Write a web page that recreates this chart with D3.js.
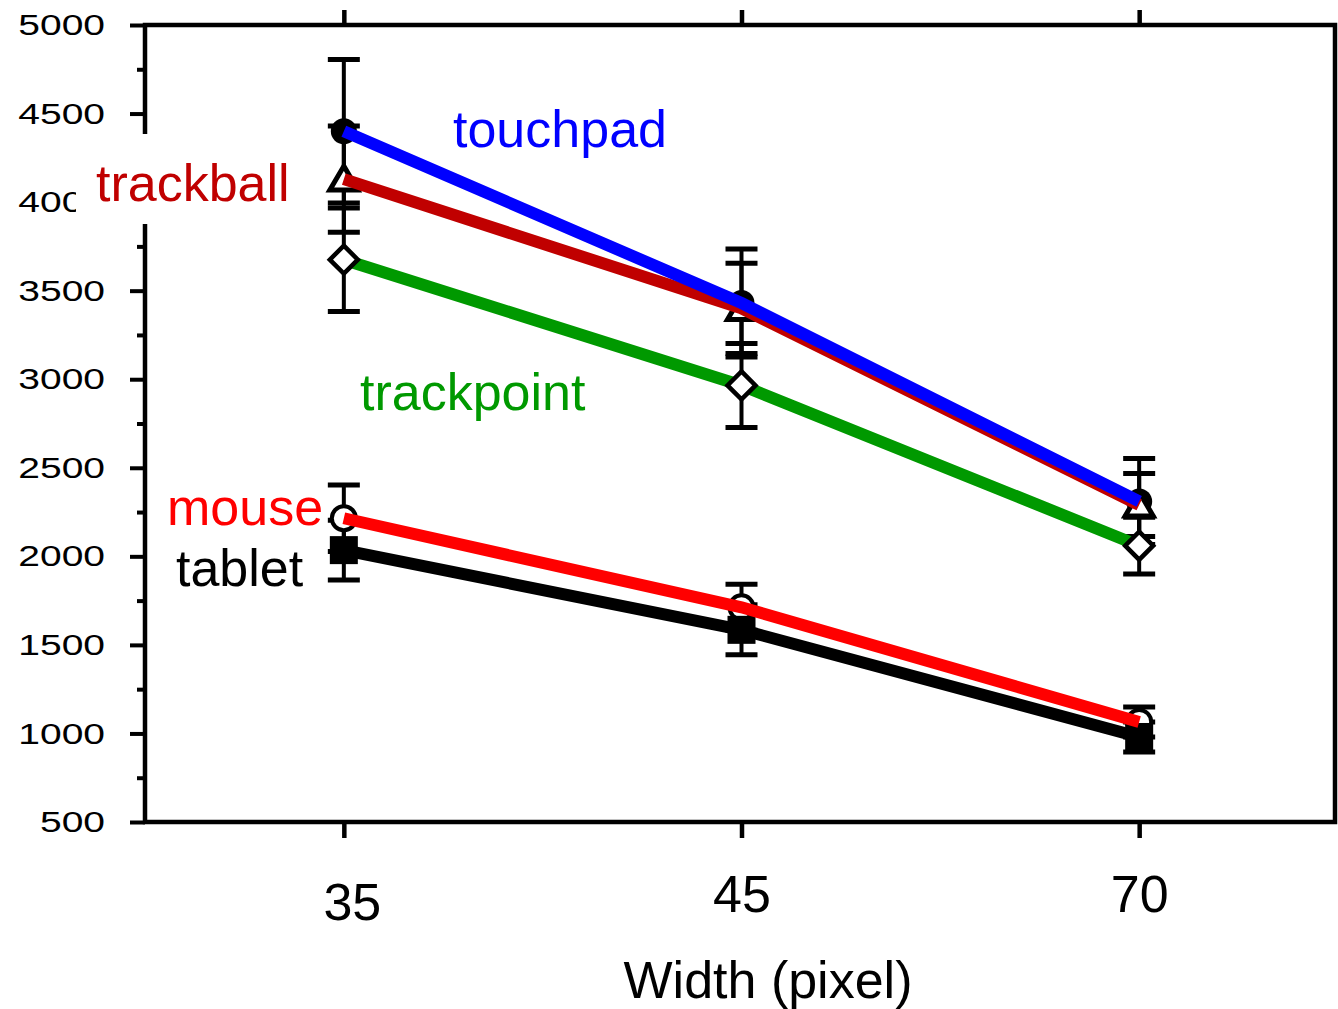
<!DOCTYPE html>
<html>
<head>
<meta charset="utf-8">
<script src="https://d3js.org/d3.v7.min.js"></script>
<style>
  body { margin: 0; background: white; }
  svg { display: block; font-family: "Liberation Sans", Arial, Helvetica, sans-serif; }
</style>
</head>
<body>
<div id="chart"></div>
<script>
// widths on the x axis
const widths = ["35", "45", "70"];
const seriesNames = ["touchpad", "trackball", "trackpoint", "mouse", "tablet"];

// mean times per width
const touchpad   = [4400, 3430, 2310];
const trackball  = [4130, 3400, 2290];
const trackpoint = [3675, 2965, 2060];
const mouse      = [2215, 1712, 1065];
const tablet     = [2035, 1585, 980];

// error bar half-heights
const touchpadErr   = [405, 305, 243];
const trackballErr  = [300, 255, 178];
const trackpointErr = [292, 237, 160];
const mouseErr      = [188, 130, 85];
const tabletErr     = [169, 141, 85];

const yTicks = [500, 1000, 1500, 2000, 2500, 3000, 3500, 4000, 4500, 5000];
const yMinorTicks = [750, 1250, 1750, 2250, 2750, 3250, 3750, 4250, 4750];

const W = 1338, H = 1009;
const plotLeft = 145, plotRight = 1335, plotTop = 25, plotBottom = 822;

const colors = {
    touchpad: "#0000ff",
    trackball: "#c00000",
    trackpoint: "#009900",
    mouse: "#ff0000",
    tablet: "#000000"
};
const markers = {
    touchpad: "circleFilled",
    trackball: "triangle",
    trackpoint: "diamond",
    mouse: "circleOpen",
    tablet: "square"
};
const labelPos = {
    touchpad: [453, 147],
    trackball: [96, 201],
    trackpoint: [360, 410],
    mouse: [167, 525],
    tablet: [176, 586]
};

const means = { touchpad, trackball, trackpoint, mouse, tablet };
const errs = { touchpad: touchpadErr, trackball: trackballErr, trackpoint: trackpointErr, mouse: mouseErr, tablet: tabletErr };

const svg = d3.select('#chart')
    .append('svg')
    .attr('width', W)
    .attr('height', H);

const x = d3.scalePoint()
    .domain(widths)
    .range([plotLeft, 1338])
    .padding(0.5);

const y = d3.scaleLinear()
    .domain([500, 5000])
    .range([plotBottom, plotTop]);

// frame
svg.append('rect')
    .attr('x', plotLeft).attr('y', plotTop)
    .attr('width', plotRight - plotLeft).attr('height', plotBottom - plotTop)
    .attr('fill', 'none')
    .attr('stroke', 'black')
    .attr('stroke-width', 4.5);

// y axis, major + minor ticks
const yAxis = svg.append('g')
    .attr('transform', `translate(${plotLeft},0)`)
    .call(d3.axisLeft(y).tickValues(yTicks).tickSize(15).tickPadding(25).tickFormat(d3.format('d')));
yAxis.select('.domain').remove();
yAxis.selectAll('line').attr('stroke-width', 4);
yAxis.selectAll('text')
    .attr('font-size', 30)
    .attr('font-family', '"Liberation Sans", Arial, sans-serif')
    .attr('fill', 'black')
    .attr('x', null)
    .attr('transform', 'translate(-40,0) scale(1.3,1)');

const yMinor = svg.append('g')
    .attr('transform', `translate(${plotLeft},0)`)
    .call(d3.axisLeft(y).tickValues(yMinorTicks).tickSize(8).tickFormat(''));
yMinor.select('.domain').remove();
yMinor.selectAll('line').attr('stroke-width', 4);

// top ticks
const xTop = svg.append('g')
    .attr('transform', `translate(0,${plotTop})`)
    .call(d3.axisTop(x).tickSize(15).tickFormat(''));
xTop.select('.domain').remove();
xTop.selectAll('line').attr('stroke-width', 4.5);

// bottom axis
const xAxis = svg.append('g')
    .attr('transform', `translate(0,${plotBottom})`)
    .call(d3.axisBottom(x).tickSize(16).tickPadding(20));
xAxis.select('.domain').remove();
xAxis.selectAll('line').attr('stroke-width', 4.5);
xAxis.selectAll('text')
    .attr('font-size', 52)
    .attr('font-family', '"Liberation Sans", Arial, sans-serif')
    .attr('fill', 'black')
    .attr('dy', null)
    .attr('y', 90);
// the first label sits a bit off in the original
xAxis.selectAll('text').filter(d => d === "35")
    .attr('x', 8).attr('y', 98);

svg.append('text')
    .attr('x', 768)
    .attr('y', 998)
    .attr('text-anchor', 'middle')
    .attr('font-size', 52)
    .text('Width (pixel)');

// error bars
const capW = 16;
const errG = svg.append('g');
seriesNames.forEach(s => {
    widths.forEach((w, i) => {
        const cx = x(w);
        const yHi = y(means[s][i] + errs[s][i]);
        const yLo = y(means[s][i] - errs[s][i]);
        errG.append('line').attr('x1', cx).attr('x2', cx).attr('y1', yHi).attr('y2', yLo)
            .attr('stroke', 'black').attr('stroke-width', 4);
        [yHi, yLo].forEach(yy => {
            errG.append('line').attr('x1', cx - capW).attr('x2', cx + capW).attr('y1', yy).attr('y2', yy)
                .attr('stroke', 'black').attr('stroke-width', 5);
        });
    });
});

function drawMarker(g, type, cx, cy) {
    if (type === 'circleFilled') {
        g.append('circle').attr('cx', cx).attr('cy', cy).attr('r', 13).attr('fill', 'black');
    } else if (type === 'circleOpen') {
        g.append('circle').attr('cx', cx).attr('cy', cy).attr('r', 12)
            .attr('fill', 'white').attr('stroke', 'black').attr('stroke-width', 4);
    } else if (type === 'square') {
        g.append('rect').attr('x', cx - 14).attr('y', cy - 14).attr('width', 28).attr('height', 28).attr('fill', 'black');
    } else if (type === 'triangle') {
        g.append('path')
            .attr('d', `M${cx},${cy - 13} L${cx + 14},${cy + 11} L${cx - 14},${cy + 11} Z`)
            .attr('fill', 'white').attr('stroke', 'black').attr('stroke-width', 5);
    } else if (type === 'diamond') {
        g.append('path')
            .attr('d', `M${cx},${cy - 14} L${cx + 14},${cy} L${cx},${cy + 14} L${cx - 14},${cy} Z`)
            .attr('fill', 'white').attr('stroke', 'black').attr('stroke-width', 4.5);
    }
}

// markers under the lines
const markG = svg.append('g');
seriesNames.filter(s => markers[s] !== 'diamond').forEach(s => {
    widths.forEach((w, i) => drawMarker(markG, markers[s], x(w), y(means[s][i])));
});

// lines
const line = d3.line()
    .x((d, i) => x(widths[i]))
    .y(d => y(d));
const lineOrder = ["tablet", "mouse", "trackpoint", "trackball", "touchpad"];
lineOrder.forEach(s => {
    svg.append('path')
        .datum(means[s])
        .attr('d', line)
        .attr('fill', 'none')
        .attr('stroke', colors[s])
        .attr('stroke-width', 12);
});

// diamonds sit on top of the green line
const topMarkG = svg.append('g');
seriesNames.filter(s => markers[s] === 'diamond').forEach(s => {
    widths.forEach((w, i) => drawMarker(topMarkG, markers[s], x(w), y(means[s][i])));
});

// series labels
seriesNames.forEach(s => {
    const t = svg.append('text')
        .attr('x', labelPos[s][0])
        .attr('y', labelPos[s][1])
        .attr('font-size', 52)
        .attr('fill', colors[s])
        .text(s);
    if (s === 'trackball') {
        const bb = t.node().getBBox();
        svg.insert('rect', () => t.node())
            .attr('x', bb.x - 20).attr('y', bb.y - 20)
            .attr('width', bb.width + 20).attr('height', bb.height + 32)
            .attr('fill', 'white');
    }
});
</script>
</body>
</html>
